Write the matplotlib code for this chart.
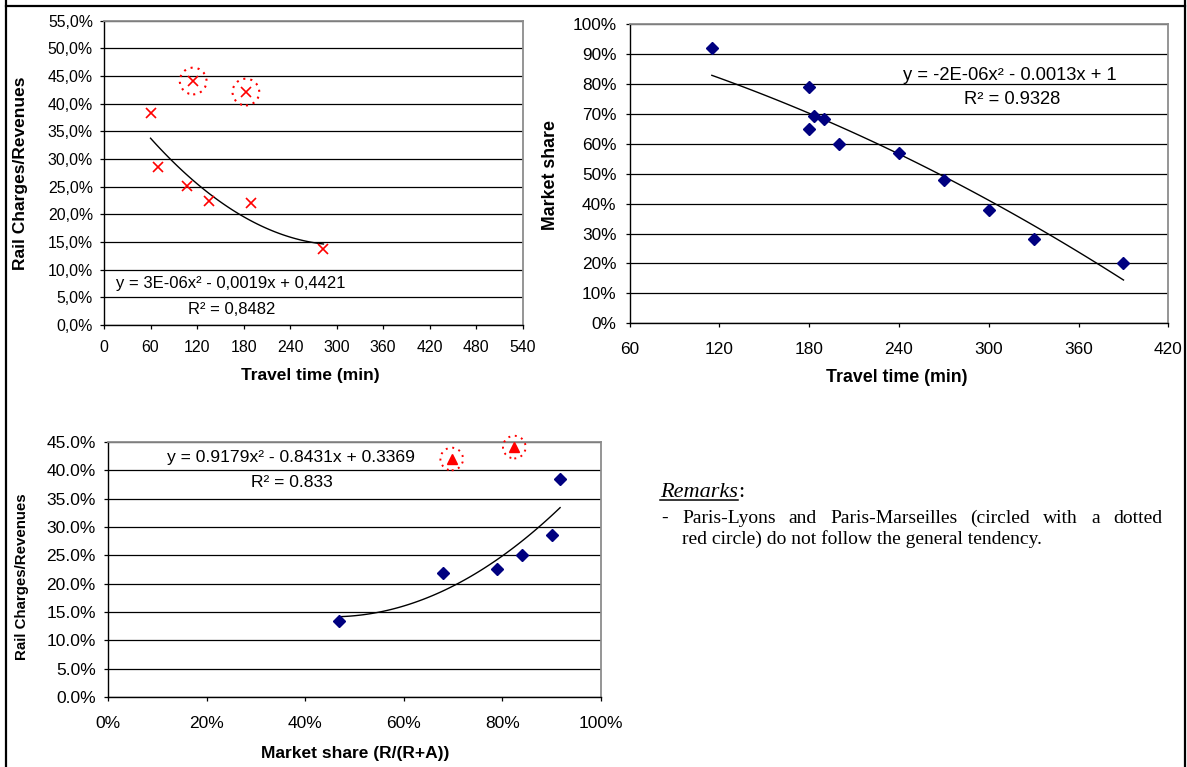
import numpy as np
import matplotlib
matplotlib.use("Agg")
import matplotlib.pyplot as plt
from matplotlib.ticker import FuncFormatter
from matplotlib.lines import Line2D

W, H, DPI = 1187, 767, 100

# --- Travel time vs rail charges / revenues ---
tt_time = [60, 70, 107, 135, 190, 283]
tt_charges = [0.384, 0.285, 0.252, 0.225, 0.220, 0.138]
tt_out_time = [115, 183]
tt_out_charges = [0.441, 0.421]
tt_eq = "y = 3E-06x\u00b2 - 0,0019x + 0,4421"
tt_r2 = "R\u00b2 = 0,8482"

# --- Travel time vs market share ---
ms_time = [115, 180, 180, 183, 190, 200, 240, 270, 300, 330, 390]
ms_share = [0.921, 0.790, 0.649, 0.692, 0.683, 0.598, 0.570, 0.480, 0.379, 0.281, 0.200]
ms_eq = "y = -2E-06x\u00b2 - 0.0013x + 1"
ms_r2 = "R\u00b2 = 0.9328"

# --- Market share vs rail charges / revenues ---
sh_share = [0.469, 0.680, 0.788, 0.839, 0.901, 0.917]
sh_charges = [0.135, 0.219, 0.226, 0.251, 0.286, 0.384]
sh_out_share = [0.697, 0.824]
sh_out_charges = [0.420, 0.441]
sh_eq = "y = 0.9179x\u00b2 - 0.8431x + 0.3369"
sh_r2 = "R\u00b2 = 0.833"

remark_title = "Remarks"
remark_line1 = "Paris-Lyons and Paris-Marseilles (circled with a dotted"
remark_line2 = "red circle) do not follow the general tendency."

SANS = "Liberation Sans"
SERIF = "Liberation Serif"
NAVY = "#000080"
RED = "#ff0000"
DOTS = (0, (1, 2.4))

plt.rcParams["font.family"] = SANS

fig = plt.figure(figsize=(W / DPI, H / DPI), dpi=DPI)


def px_axes(l, t, r, b):
    return fig.add_axes([l / W, 1 - b / H, (r - l) / W, (b - t) / H])


def ftext(x, y, s, **kw):
    return fig.text(x / W, 1 - y / H, s, **kw)


def style_axes(ax, xticks, yticks, xfmt, yfmt, fs, xpad, ypad):
    ax.set_xlim(xticks[0], xticks[-1])
    ax.set_ylim(yticks[0], yticks[-1])
    ax.set_xticks(xticks)
    ax.set_yticks(yticks)
    ax.xaxis.set_major_formatter(FuncFormatter(xfmt))
    ax.yaxis.set_major_formatter(FuncFormatter(yfmt))
    ax.set_axisbelow(True)
    ax.grid(axis="y", color="black", linewidth=0.9)
    ax.grid(axis="x", visible=False)
    for side in ("top", "right"):
        ax.spines[side].set_color("#8c8c8c")
        ax.spines[side].set_linewidth(1.3)
    for side in ("left", "bottom"):
        ax.spines[side].set_color("black")
        ax.spines[side].set_linewidth(1.0)
    ax.tick_params(direction="out", length=3, width=0.9, labelsize=fs,
                   colors="black")
    ax.tick_params(axis="x", pad=xpad)
    ax.tick_params(axis="y", pad=ypad)
    for lab in ax.get_xticklabels() + ax.get_yticklabels():
        lab.set_fontfamily(SANS)


def curve(ax, coef, xs):
    xx = np.linspace(min(xs), max(xs), 120)
    ax.plot(xx, np.polyval(coef, xx), color="black", linewidth=1.0, zorder=3)


# ---------------- Chart 1 ----------------
ax1 = px_axes(104.0, 20.7, 522.7, 325.0)
style_axes(ax1, list(range(0, 541, 60)), [i * 0.05 for i in range(12)],
           lambda v, _: f"{v:.0f}",
           lambda v, _: f"{v * 100:.1f}%".replace(".", ","),
           11.4, 8.0, 5.0)
ax1.plot(tt_time, tt_charges, linestyle="none", marker="x", markersize=7,
         markeredgewidth=1.2, color=RED, zorder=4)
ax1.plot(tt_out_time, tt_out_charges, linestyle="none", marker="x",
         markersize=7, markeredgewidth=1.2, color=RED, zorder=4)
ax1.scatter(tt_out_time, tt_out_charges, s=370, facecolors="none",
            edgecolors=RED, linewidths=1.5, linestyles=DOTS, zorder=4,
            clip_on=False)
curve(ax1, np.polyfit(tt_time, tt_charges, 2), tt_time)
ftext(116, 283.3, tt_eq, fontsize=12.0, va="center", ha="left")
ftext(188.3, 310, tt_r2, fontsize=12.0, va="center", ha="left")
ftext(20.7, 173, "Rail Charges/Revenues", rotation=90, fontsize=12.5,
      fontweight="bold", ha="center", va="center")
ftext(310, 375, "Travel time (min)", fontsize=12.5, fontweight="bold",
      ha="center", va="center")

# ---------------- Chart 2 ----------------
ax2 = px_axes(629.5, 24.0, 1168.4, 323.3)
style_axes(ax2, list(range(60, 421, 60)), [i * 0.1 for i in range(11)],
           lambda v, _: f"{v:.0f}",
           lambda v, _: f"{v * 100:.0f}%",
           12.4, 10.5, 6.5)
ax2.plot(ms_time, ms_share, linestyle="none", marker="D", markersize=6,
         color=NAVY, zorder=4)
# quadratic trend with the intercept held at 1
mt = np.asarray(ms_time, float)
A = np.column_stack([mt ** 2, mt])
ab = np.linalg.lstsq(A, np.asarray(ms_share) - 1.0, rcond=None)[0]
curve(ax2, [ab[0], ab[1], 1.0], ms_time)
ftext(903, 75, ms_eq, fontsize=13.2, va="center", ha="left")
ftext(964.2, 100, ms_r2, fontsize=13.2, va="center", ha="left")
ftext(550.3, 175, "Market share", rotation=90, fontsize=12.8,
      fontweight="bold", ha="center", va="center")
ftext(897, 377, "Travel time (min)", fontsize=12.8, fontweight="bold",
      ha="center", va="center")

# ---------------- Chart 3 ----------------
ax3 = px_axes(108.3, 442.0, 601.0, 697.0)
style_axes(ax3, [i * 0.2 for i in range(6)], [i * 0.05 for i in range(10)],
           lambda v, _: f"{v * 100:.0f}%",
           lambda v, _: f"{v * 100:.1f}%",
           12.5, 11.0, 6.0)
ax3.plot(sh_share, sh_charges, linestyle="none", marker="D", markersize=6,
         color=NAVY, zorder=4)
ax3.plot(sh_out_share, sh_out_charges, linestyle="none", marker="^",
         markersize=7.5, color=RED, zorder=4, clip_on=False)
ax3.scatter(sh_out_share, sh_out_charges, s=265, facecolors="none",
            edgecolors=RED, linewidths=1.4, linestyles=DOTS, zorder=4,
            clip_on=False)
curve(ax3, np.polyfit(sh_share, sh_charges, 2), sh_share)
ftext(166.9, 457.3, sh_eq, fontsize=12.6, va="center", ha="left")
ftext(251.1, 482.3, sh_r2, fontsize=12.6, va="center", ha="left")
ftext(21.7, 576.7, "Rail Charges/Revenues", rotation=90, fontsize=10.8,
      fontweight="bold", ha="center", va="center")
ftext(355, 753.3, "Market share (R/(R+A))", fontsize=12.5, fontweight="bold",
      ha="center", va="center")

# ---------------- Remarks ----------------
renderer = fig.canvas.get_renderer()
BODY = 14.0
TITLE = 16.0

t_title = ftext(660, 497, remark_title, fontsize=TITLE, fontstyle="italic",
                family=SERIF, ha="left", va="baseline")
bb = t_title.get_window_extent(renderer)
ftext(bb.x1 + 0.5, 497, ":", fontsize=TITLE, family=SERIF, ha="left",
      va="baseline")
fig.add_artist(Line2D([bb.x0 / W, bb.x1 / W], [1 - 500 / H, 1 - 500 / H],
                      color="black", linewidth=1.1, transform=fig.transFigure))

ftext(661, 523, "-", fontsize=BODY, family=SERIF, ha="left", va="baseline")

# first line of the paragraph is justified between both margins
words = remark_line1.split()
x_left, x_right = 682.0, 1162.0
widths = []
for w in words:
    t = ftext(0, 0, w, fontsize=BODY, family=SERIF)
    widths.append(t.get_window_extent(renderer).width)
    t.remove()
gap = (x_right - x_left - sum(widths)) / (len(words) - 1)
x = x_left
for w, wd in zip(words, widths):
    ftext(x, 523, w, fontsize=BODY, family=SERIF, ha="left", va="baseline")
    x += wd + gap

ftext(682.0, 544, remark_line2, fontsize=BODY, family=SERIF, ha="left",
      va="baseline")

# outer frame
for xs, ys in (([5.5, 5.5], [0, 767 + 5]), ([1185, 1185], [0, 767 + 5]),
               ([5.5, 1185], [6, 6])):
    fig.add_artist(Line2D([v / W for v in xs], [1 - v / H for v in ys],
                          color="black", linewidth=1.6,
                          transform=fig.transFigure))

fig.savefig("out.png", dpi=DPI, facecolor="white")
